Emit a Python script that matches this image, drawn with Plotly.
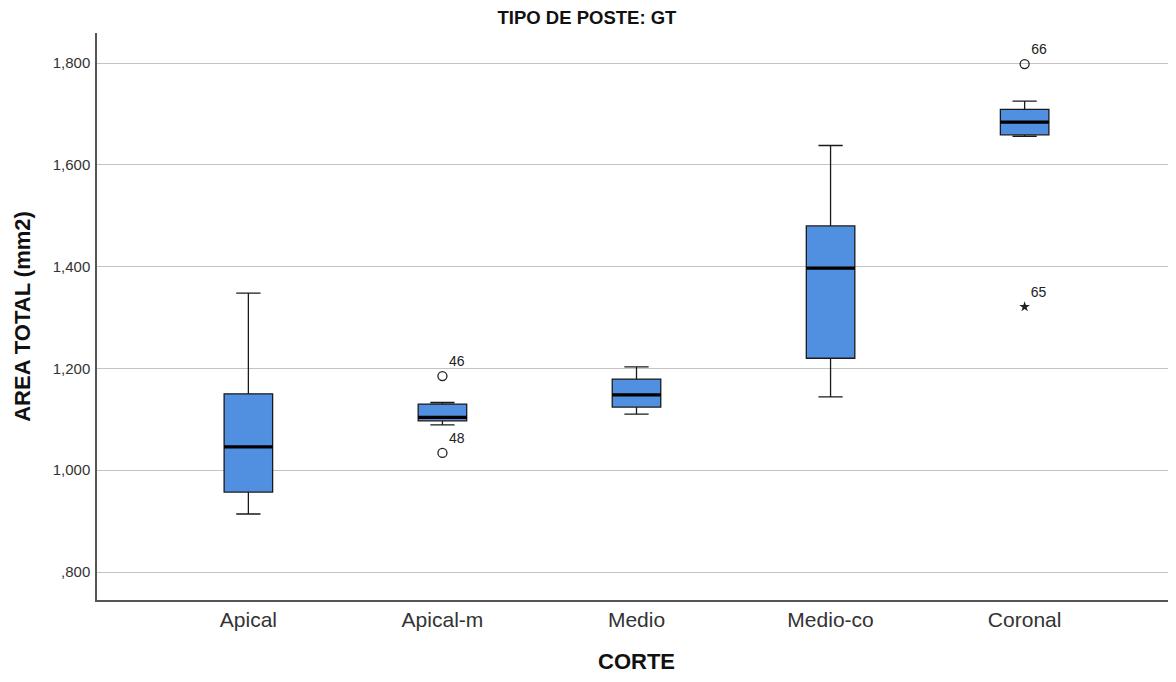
import plotly.graph_objects as go

categories = ["Apical", "Apical-m", "Medio", "Medio-co", "Coronal"]
lower_whisker = [0.914, 1.089, 1.110, 1.144, 1.656]
q1 = [0.957, 1.097, 1.124, 1.220, 1.659]
median = [1.046, 1.104, 1.148, 1.397, 1.684]
q3 = [1.150, 1.130, 1.179, 1.480, 1.709]
upper_whisker = [1.348, 1.133, 1.203, 1.638, 1.725]

outlier_cat = ["Apical-m", "Apical-m", "Coronal"]
outlier_val = [1.185, 1.034, 1.798]
outlier_lab = ["46", "48", "66"]
extreme_cat = ["Coronal"]
extreme_val = [1.321]
extreme_lab = ["65"]

tick_vals = [0.8, 1.0, 1.2, 1.4, 1.6, 1.8]
tick_text = [",800", "1,000", "1,200", "1,400", "1,600", "1,800"]

BOX_W = 0.25
FILL = "#5190E0"
idx = {c: i for i, c in enumerate(categories)}

fig = go.Figure()
for i, c in enumerate(categories):
    fig.add_trace(go.Box(
        x=[i], q1=[q1[i]], median=[median[i]], q3=[q3[i]],
        lowerfence=[lower_whisker[i]], upperfence=[upper_whisker[i]],
        width=BOX_W, whiskerwidth=0.5, boxpoints=False,
        fillcolor=FILL, line=dict(color="#1a1a1a", width=1.3),
        showlegend=False, hoverinfo="skip",
    ))
    fig.add_trace(go.Scatter(
        x=[i - BOX_W / 2, i + BOX_W / 2], y=[median[i], median[i]],
        mode="lines", line=dict(color="black", width=3.2),
        showlegend=False, hoverinfo="skip",
    ))

fig.add_trace(go.Scatter(
    x=[idx[c] for c in outlier_cat], y=outlier_val, mode="markers+text",
    marker=dict(symbol="circle-open", size=9, color="#222", line=dict(width=1.3)),
    text=outlier_lab, textposition="top right",
    textfont=dict(family="Liberation Sans, Arial, sans-serif", size=14, color="#222"),
    showlegend=False, hoverinfo="skip",
))
fig.add_trace(go.Scatter(
    x=[idx[c] for c in extreme_cat], y=extreme_val, mode="markers+text",
    marker=dict(symbol="star", size=8, color="#222"),
    text=extreme_lab, textposition="top right",
    textfont=dict(family="Liberation Sans, Arial, sans-serif", size=14, color="#222"),
    showlegend=False, hoverinfo="skip",
))

fig.update_layout(
    width=1168, height=666,
    margin=dict(l=89, r=0, t=25, b=74),
    paper_bgcolor="white", plot_bgcolor="white",
    title=dict(text="<b>TIPO DE POSTE: GT</b>", x=0.4957, xref="container", xanchor="center",
               y=0.985, yref="container", yanchor="middle",
               font=dict(family="Liberation Sans Narrow, Arial Narrow, Liberation Sans, sans-serif", size=18.5, color="#111")),
    xaxis=dict(
        range=[-0.78, 4.78], tickmode="array", tickvals=list(range(len(categories))),
        ticktext=categories, showgrid=False, zeroline=False, showline=True,
        linecolor="#555", linewidth=1.5, ticks="",
        tickfont=dict(family="Liberation Sans, Arial, sans-serif", size=21, color="#333"),
        title=dict(text="<b>CORTE</b>", standoff=29,
                   font=dict(family="Liberation Sans, Arial, sans-serif", size=22, color="#111")),
    ),
    yaxis=dict(
        range=[0.745, 1.859], tickmode="array", tickvals=tick_vals, ticktext=tick_text,
        showgrid=True, gridcolor="#c4c4c4", gridwidth=1, zeroline=False,
        showline=True, linecolor="#555", linewidth=1.5, ticks="", ticklabelstandoff=2,
        tickfont=dict(family="Liberation Sans, Arial, sans-serif", size=15, color="#333"),
        title=dict(text="<b>AREA TOTAL (mm2)</b>", standoff=16,
                   font=dict(family="Liberation Sans, Arial, sans-serif", size=22, color="#111")),
    ),
)

fig.write_html("out.html")
